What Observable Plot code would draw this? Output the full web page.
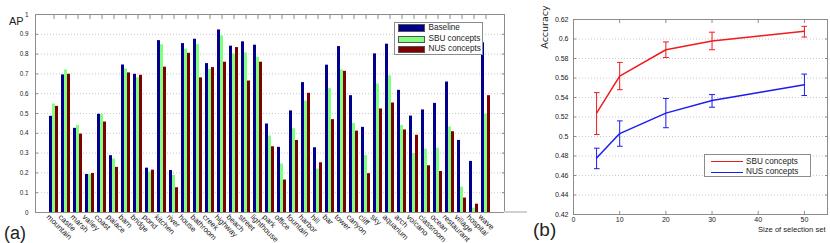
<!DOCTYPE html>
<html><head><meta charset="utf-8">
<script src="https://cdn.jsdelivr.net/npm/d3@7"></script>
<script src="https://cdn.jsdelivr.net/npm/@observablehq/plot@0.6"></script>
<style>
body{margin:0;background:#fff;}
#wrap{position:relative;width:830px;height:243px;overflow:hidden;font-family:"Liberation Sans",Arial,sans-serif;color:#222;}
#wrap svg{position:absolute;top:0;overflow:visible;}
.lbl{position:absolute;line-height:1;white-space:nowrap;}
</style></head><body><div id="wrap"></div>
<script>
// ---- Panel (a): AP per category ----
const categories = ["mountain","castle","marsh","valley","coast","palace","barn","bridge","pond","kitchen","river","house","bathroom","creek","highway","beach","street","lighthouse","park","office","fountain","harbor","hill","bar","tower","canyon","cliff","sky","aquarium","arch","volcano","classroom","ocean","restaurant","village","hospital","wave"];
const series = ["Baseline","SBU concepts","NUS concepts"];
const seriesColors = ["#00008c","#80ff80","#800000"];
const baseline = [0.486,0.695,0.425,0.192,0.496,0.287,0.745,0.698,0.224,0.868,0.212,0.853,0.875,0.752,0.922,0.840,0.862,0.845,0.447,0.329,0.513,0.656,0.327,0.744,0.838,0.590,0.430,0.801,0.850,0.617,0.487,0.518,0.551,0.659,0.364,0.258,0.857];
const sbu = [0.548,0.720,0.440,0.192,0.494,0.270,0.725,0.680,0.204,0.847,0.187,0.825,0.848,0.722,0.892,0.801,0.806,0.784,0.386,0.245,0.423,0.563,0.219,0.626,0.720,0.450,0.288,0.649,0.690,0.440,0.298,0.320,0.325,0.432,0.128,0.022,0.497];
const nus = [0.536,0.698,0.396,0.197,0.457,0.228,0.705,0.693,0.214,0.734,0.125,0.804,0.680,0.732,0.759,0.833,0.664,0.759,0.332,0.164,0.364,0.602,0.251,0.469,0.713,0.411,0.196,0.523,0.553,0.417,0.390,0.236,0.207,0.408,0.073,0.042,0.590];
const apTicks = [0,0.1,0.2,0.3,0.4,0.5,0.6,0.7,0.8,0.9,1];

// ---- Panel (b): accuracy vs size of selection set ----
const methods = ["SBU concepts","NUS concepts"];
const methodColors = ["#ee1c1c","#1c1cee"];
const sizes = [5,10,20,30,50];
const sbuAcc = [0.524,0.562,0.589,0.598,0.608];
const sbuLo  = [0.502,0.548,0.581,0.589,0.602];
const sbuHi  = [0.545,0.576,0.597,0.607,0.613];
const nusAcc = [0.478,0.503,0.524,0.537,0.553];
const nusLo  = [0.467,0.490,0.509,0.530,0.542];
const nusHi  = [0.488,0.516,0.539,0.543,0.564];
const accTicks = [0.42,0.44,0.46,0.48,0.5,0.52,0.54,0.56,0.58,0.6,0.62];
const sizeTicks = [0,10,20,30,40,50];

const wrap = document.getElementById("wrap");
const fmt = d => String(+d.toFixed(2));
const FONT = "Liberation Sans, Arial, sans-serif";

// Left chart: shared geometry
const L = {width: 525, height: 243, marginLeft: 35, marginRight: 21, marginTop: 14, marginBottom: 31};

// background: frame, grid, y axes
const leftBg = Plot.plot({
  ...L,
  style: {fontFamily: FONT, fontSize: "6px", background: "transparent", color: "#222"},
  y: {domain: [0, 1], label: null},
  marks: [
    Plot.ruleY(apTicks.slice(1, -1), {stroke: "#c8c8c8", strokeDasharray: "1,2"}),
    Plot.frame({stroke: "#8c8c8c"}),
    Plot.axisY({ticks: apTicks, tickFormat: fmt, tickSize: -3, tickPadding: 10, stroke: "#8c8c8c", fontSize: 6.3, fill: "#222", label: null}),
    Plot.axisY({anchor: "right", ticks: apTicks, tickFormat: () => "", tickSize: -3, stroke: "#8c8c8c", label: null})
  ]
});
leftBg.style.left = "0px";
wrap.appendChild(leftBg);

// foreground: grouped bars faceted by category
const barData = categories.flatMap((c, i) => [
  {category: c, series: series[0], value: baseline[i]},
  {category: c, series: series[1], value: sbu[i]},
  {category: c, series: series[2], value: nus[i]}
]);
const left = Plot.plot({
  ...L,
  style: {fontFamily: FONT, fontSize: "8px", background: "transparent", color: "#222"},
  fx: {domain: categories, paddingInner: 0.27, paddingOuter: 0.65, label: null, axis: null},
  x: {domain: series, padding: 0, axis: null},
  y: {domain: [0, 1], axis: null},
  color: {domain: series, range: seriesColors},
  marks: [
    Plot.barY(barData, {fx: "category", x: "series", y: "value", fill: "series"}),
    Plot.axisFx({anchor: "top", tickFormat: () => "", tickSize: -4, stroke: "#8c8c8c", label: null}),
    Plot.text(categories, {fx: d => d, text: d => d, frameAnchor: "bottom", rotate: 45, textAnchor: "start", lineAnchor: "top", dx: -4, dy: 1, fontSize: 7.8, fill: "#222"})
  ]
});
left.style.left = "0px";
wrap.appendChild(left);

// Right chart
const accData = [
  ...sizes.map((s, i) => ({size: s, acc: sbuAcc[i], lo: sbuLo[i], hi: sbuHi[i], method: methods[0]})),
  ...sizes.map((s, i) => ({size: s, acc: nusAcc[i], lo: nusLo[i], hi: nusHi[i], method: methods[1]}))
];
const right = Plot.plot({
  width: 300, height: 243,
  marginLeft: 43, marginRight: 3, marginTop: 19, marginBottom: 29,
  style: {fontFamily: FONT, fontSize: "7px", background: "transparent", color: "#222"},
  x: {domain: [0, 55], label: null},
  y: {domain: [0.42, 0.62], label: null},
  color: {domain: methods, range: methodColors},
  marks: [
    Plot.ruleY(accTicks.slice(1, -1), {stroke: "#c8c8c8", strokeDasharray: "1,2"}),
    Plot.frame({stroke: "#8c8c8c"}),
    Plot.axisX({ticks: sizeTicks, tickFormat: d => String(d), tickSize: -3, tickPadding: 6, stroke: "#8c8c8c", fontSize: 7, fill: "#222", label: null}),
    Plot.axisX({anchor: "top", ticks: sizeTicks, tickFormat: () => "", tickSize: -3, stroke: "#8c8c8c", label: null}),
    Plot.axisY({ticks: accTicks, tickFormat: fmt, tickSize: -3, tickPadding: 8, stroke: "#8c8c8c", fontSize: 7, fill: "#222", label: null}),
    Plot.axisY({anchor: "right", ticks: accTicks, tickFormat: () => "", tickSize: -3, stroke: "#8c8c8c", label: null}),
    Plot.link(accData, {x1: "size", x2: "size", y1: "lo", y2: "hi", stroke: "method", markerStart: "tick-x", markerEnd: "tick-x"}),
    Plot.line(accData, {x: "size", y: "acc", z: "method", stroke: "method"})
  ]
});
right.style.left = "530px";
wrap.appendChild(right);

// Text labels and legends
function label(text, x, baseline, size, extra = {}) {
  const d = document.createElement("div");
  d.className = "lbl";
  d.textContent = text;
  d.style.left = x + "px";
  d.style.top = (baseline - 0.8465 * size) + "px";
  d.style.fontSize = size + "px";
  Object.assign(d.style, extra);
  wrap.appendChild(d);
  return d;
}
label("AP", 9, 25, 11);
label("(a)", 4, 239, 18);
label("(b)", 533, 236, 19);
label("Size of selection set", 758, 232, 7.6);
label("Accuracy", 0, 0, 9.5, {left: "544.5px", top: "27px", transform: "translate(-50%,-50%) rotate(-90deg)", fontFamily: "DejaVu Sans, sans-serif"});

// extension of the bottom axis line in panel (a)
const ext = document.createElement("div");
Object.assign(ext.style, {position: "absolute", left: "504px", top: "211px", width: "23px", height: "2px", background: "#d0d0d0"});
wrap.appendChild(ext);

function box(x, y, w, h) {
  const b = document.createElement("div");
  Object.assign(b.style, {position: "absolute", left: x + "px", top: y + "px", width: w + "px", height: h + "px", boxSizing: "border-box", border: "1px solid #8c8c8c", background: "#fff"});
  wrap.appendChild(b);
}
// legend (a)
box(394, 22, 89, 33);
const rowsA = [28, 39.2, 49.4];
series.forEach((s, i) => {
  const sw = document.createElement("div");
  Object.assign(sw.style, {position: "absolute", left: "398px", top: (rowsA[i] - 3.7) + "px", width: "27px", height: "7.4px", background: seriesColors[i], boxSizing: "border-box", border: "0.5px solid #555"});
  wrap.appendChild(sw);
  label(s, 428.5, rowsA[i] + 3, 8.2);
});
// legend (b)
box(704, 154, 107, 23);
const rowsB = [161.7, 172];
methods.forEach((m, i) => {
  const ln = document.createElement("div");
  Object.assign(ln.style, {position: "absolute", left: "710.7px", top: (rowsB[i] - 0.5) + "px", width: "32px", height: "1px", background: methodColors[i]});
  wrap.appendChild(ln);
  label(m, 746, rowsB[i] + 3, 8.2);
});
</script>
</body></html>
